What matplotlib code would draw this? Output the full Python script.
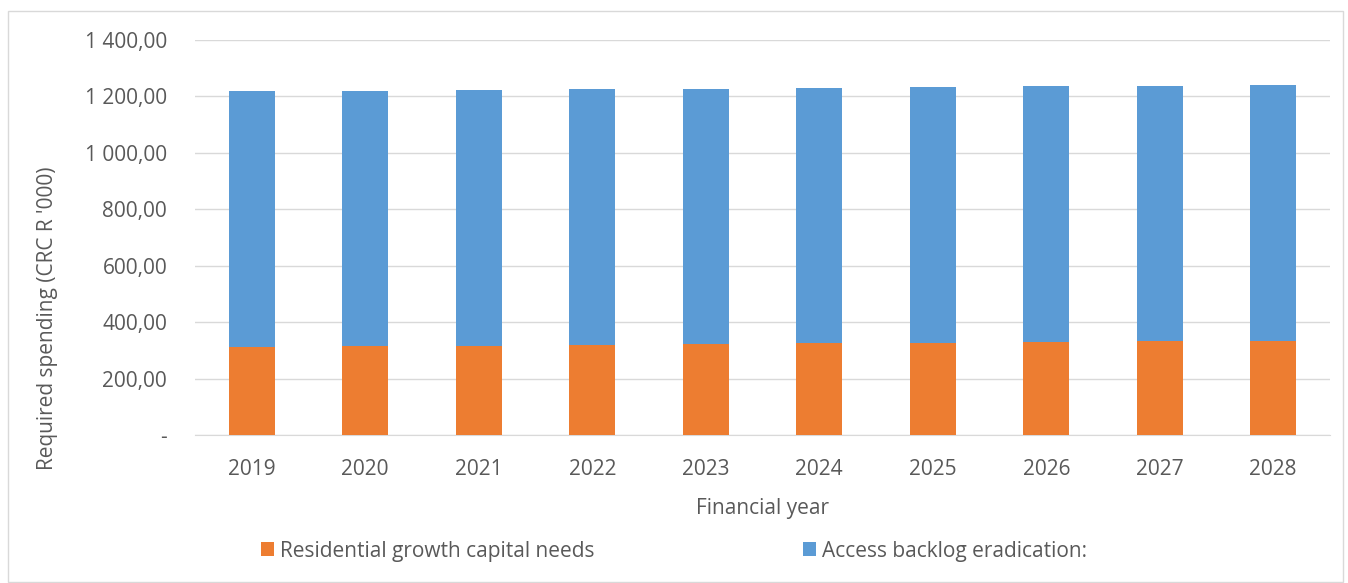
import matplotlib as mpl
mpl.use('Agg')
from matplotlib import pyplot as plt
from matplotlib.patches import Rectangle
from matplotlib.ticker import FuncFormatter

years = ['2019', '2020', '2021', '2022', '2023', '2024', '2025', '2026', '2027', '2028']
growth_needs = [311, 314, 317, 319, 321, 325, 325, 329, 332, 334]
total_spend = [1218, 1219, 1223, 1225, 1226, 1230, 1234, 1237, 1237, 1241]
backlog = [t - g for t, g in zip(total_spend, growth_needs)]

orange = '#ed7d31'
blue = '#5b9bd5'
txt = '#595959'
fs = 15

plt.rcParams['font.family'] = ['Open Sans', 'DejaVu Sans']

fig = plt.figure(figsize=(13.48, 5.83), dpi=100)
ax = fig.add_axes([195 / 1348, 1 - 435 / 583, (1330 - 195) / 1348, (435 - 40) / 583])

x = range(len(years))
ax.bar(x, growth_needs, width=0.405, color=orange, label='Residential growth capital needs', zorder=3)
ax.bar(x, backlog, width=0.405, bottom=growth_needs, color=blue,
       label='Access backlog eradication:', zorder=3)

ax.set_xlim(-0.5, len(years) - 0.5)
ax.set_ylim(0, 1400)
ax.set_yticks(range(0, 1401, 200))


def fmt(v, pos):
    if v == 0:
        return '-'
    return '{:,.2f}'.format(v).replace(',', ' ').replace('.', ',')


ax.yaxis.set_major_formatter(FuncFormatter(fmt))
ax.set_xticks(list(x))
ax.set_xticklabels(years)
ax.grid(axis='y', color='#d9d9d9', linewidth=1, zorder=0)
for s in ['top', 'right', 'left']:
    ax.spines[s].set_visible(False)
ax.spines['bottom'].set_color('#d9d9d9')
ax.tick_params(axis='both', length=0, labelsize=fs, colors=txt)
ax.tick_params(axis='y', pad=20)
ax.tick_params(axis='x', pad=17)

ax.set_xlabel('Financial year', fontsize=fs, color=txt, labelpad=13)
fig.text(48 / 1348, 1 - 318 / 583, "Required spending (CRC R '000)", rotation=90,
         ha='center', va='center', fontsize=fs, color=txt)

leg = fig.legend(loc='center', bbox_to_anchor=(0.5, 1 - 551 / 583), ncol=2, frameon=False,
                 fontsize=fs, handlelength=0.62, handleheight=0.62, handletextpad=0.3,
                 columnspacing=10)
for t in leg.get_texts():
    t.set_color(txt)

fig.patches.append(Rectangle((8 / 1348, 0.002), 1335 / 1348, 1 - 12 / 583, transform=fig.transFigure,
                             fill=False, edgecolor='#d9d9d9', linewidth=1))

fig.savefig('out.png', dpi=100)
